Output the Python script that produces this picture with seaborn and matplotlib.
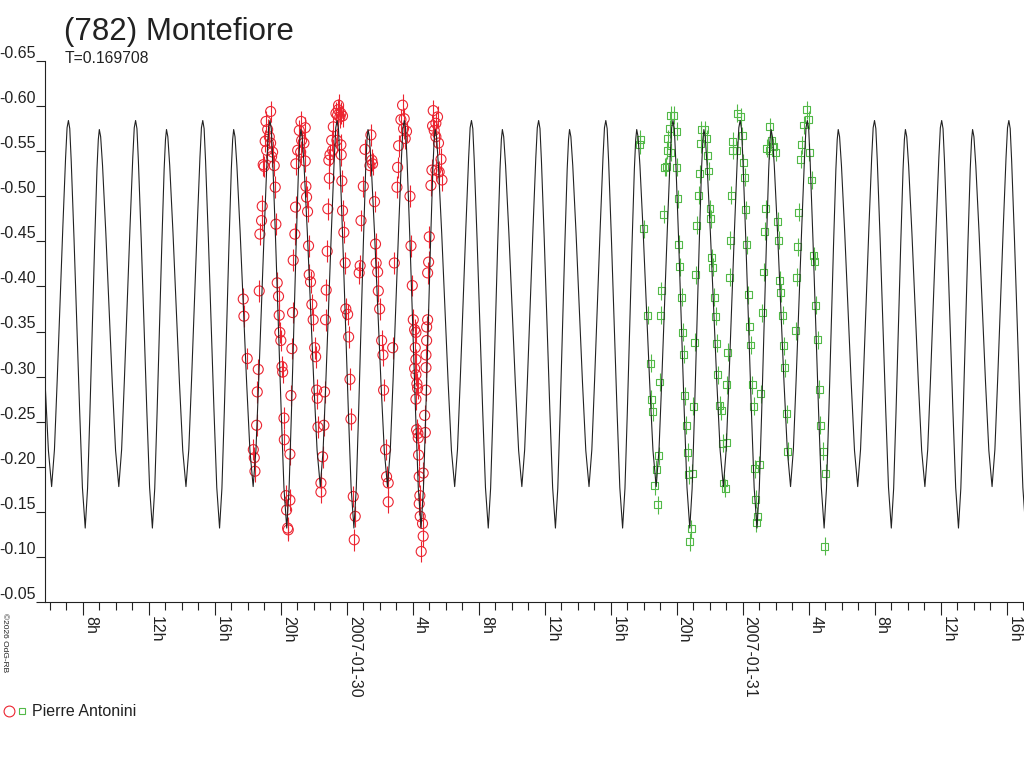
import numpy as np
import pandas as pd
import matplotlib
matplotlib.use('Agg')
import matplotlib.pyplot as plt
import seaborn as sns
from matplotlib.legend_handler import HandlerTuple
from matplotlib.lines import Line2D

# period of the fit (days), epoch of a main maximum in hours from 2007-01-30 00:00
period_days = 0.169708
epoch_h = -16.88

# one cycle of the fitted lightcurve (phase 0 = main maximum)
curve_phase = [0, 0.02, 0.0417, 0.0833, 0.125, 0.1667, 0.2083, 0.25, 0.285, 0.32, 0.355, 0.39,
               0.425, 0.445, 0.46, 0.48, 0.508, 0.557, 0.605, 0.653, 0.702, 0.75, 0.792, 0.833,
               0.875, 0.917, 0.958, 0.98]
curve_mag = [-0.584, -0.575, -0.539, -0.453, -0.358, -0.263, -0.177, -0.132, -0.176, -0.260, -0.353, -0.446,
             -0.530, -0.563, -0.574, -0.566, -0.534, -0.459, -0.376, -0.293, -0.218, -0.178, -0.219, -0.296,
             -0.381, -0.466, -0.543, -0.576]

# night 1 (red circles), hours from 2007-01-30 00:00
red_hours = [
    -6.28, -6.24, -6.04, -5.37, -5.43, -5.47, -5.67, -5.61, -5.57,
    -5.27, -5.17, -5.13, -5.31, -4.62, -4.90, -4.80, -4.95, -4.70, -4.62, -4.86, -4.50, -5.07, -4.40, -4.56, -5.01,
    -4.34, -4.30, -4.22, -4.14, -4.10, -4.06, -4.00, -3.93, -3.89, -3.81, -3.79, -3.69, -3.45, -3.65, -3.59, -3.55,
    -3.45, -3.39, -3.33, -3.29, -3.25, -3.15, -3.11,
    -2.78, -2.88, -2.52, -2.74, -2.60, -2.98, -2.80, -2.52, -3.09,
    -2.48, -2.44, -2.38, -2.32, -2.28, -2.20, -2.12, -2.04, -1.95, -1.89, -1.83, -1.79, -1.75, -1.57, -1.57,
    -1.47, -1.39, -1.35, -1.29, -1.25, -1.19, -1.15, -1.06,
    -0.66, -0.52, -0.82, -0.92, -1.02, -0.86, -1.09, -0.42,
    -0.50, -0.36, -0.56, -0.26, -0.60, -0.36, -0.34,
    -0.30, -0.26, -0.18, -0.10, -0.06, 0.05, 0.11, 0.19, 0.25, 0.39, 0.51, 0.45,
    0.75, 0.81, 0.86, 1.00, 1.10, 1.46, 1.52, 1.56, 1.40,
    1.68, 1.74, 1.78, 1.87, 1.91, 1.99, 2.11, 2.19, 2.23, 2.35, 2.41, 2.51, 2.51,
    2.78, 2.88, 3.04, 3.08, 3.14, 3.38, 3.48, 3.44, 3.62, 3.54, 3.28, 3.83, 3.89, 3.97,
    4.03, 4.11, 4.19, 4.15, 4.19, 4.11, 4.19, 4.25, 4.29, 4.19, 4.23, 4.31, 4.33, 4.35, 4.39, 4.43, 4.39, 4.45,
    4.59, 4.63, 4.51,
    4.63, 4.76, 4.72, 4.80, 4.80, 4.80, 4.84, 4.84, 4.90,
    5.24, 5.50, 5.40, 5.20, 5.30, 5.40, 5.56, 5.71, 5.16, 5.40, 5.60, 5.77, 5.10, 5.00, 4.96, 4.90,
]
red_mag = [
    -0.386, -0.367, -0.320, -0.308, -0.283, -0.246, -0.219, -0.210, -0.195,
    -0.458, -0.473, -0.489, -0.395, -0.594, -0.583, -0.574, -0.561, -0.566, -0.559, -0.551, -0.549, -0.535, -0.534,
    -0.544, -0.533,
    -0.510, -0.469, -0.404, -0.389, -0.368, -0.349, -0.340, -0.311, -0.305, -0.254, -0.230, -0.168, -0.163, -0.152,
    -0.132, -0.130,
    -0.214, -0.279, -0.331, -0.371, -0.429, -0.458, -0.488,
    -0.583, -0.573, -0.576, -0.562, -0.559, -0.551, -0.549, -0.539, -0.536,
    -0.511, -0.499, -0.483, -0.445, -0.413, -0.405, -0.380, -0.363, -0.332, -0.322, -0.285, -0.276, -0.244, -0.182,
    -0.172,
    -0.211, -0.246, -0.283, -0.363, -0.396, -0.439, -0.486, -0.520,
    -0.592, -0.596, -0.577, -0.562, -0.546, -0.551, -0.540, -0.588,
    -0.601, -0.592, -0.590, -0.589, -0.562, -0.557, -0.546,
    -0.517, -0.484, -0.460, -0.426, -0.375, -0.369, -0.344, -0.297, -0.253, -0.167, -0.145, -0.119,
    -0.415, -0.423, -0.473, -0.511, -0.552, -0.568, -0.540, -0.536, -0.534,
    -0.494, -0.447, -0.426, -0.416, -0.395, -0.375, -0.340, -0.324, -0.285, -0.219, -0.189, -0.182, -0.161,
    -0.332, -0.426, -0.510, -0.532, -0.556, -0.601, -0.586, -0.575, -0.572, -0.564, -0.585, -0.500, -0.445, -0.401,
    -0.363, -0.352, -0.349, -0.332, -0.319, -0.309, -0.302, -0.292, -0.287, -0.275, -0.241, -0.237, -0.232, -0.213,
    -0.189, -0.168, -0.159, -0.145,
    -0.137, -0.123, -0.106,
    -0.193, -0.238, -0.257, -0.285, -0.310, -0.324, -0.340, -0.355, -0.363,
    -0.595, -0.588, -0.581, -0.578, -0.573, -0.566, -0.559, -0.541, -0.529, -0.529, -0.527, -0.518, -0.512, -0.455,
    -0.427, -0.415,
]

# night 2 (green squares)
green_hours = [
    17.79, 17.75, 17.99, 18.26, 18.42, 18.46, 18.54, 18.90, 18.76, 18.66, 18.86,
    18.96, 19.02, 19.08, 19.21, 19.27, 19.37, 19.43, 19.47, 19.57, 19.63, 19.83, 19.99, 19.63, 19.99,
    20.08, 20.12, 20.18, 20.30, 20.38, 20.44, 20.50, 20.58, 20.68, 20.72, 20.88, 20.78,
    20.96, 21.02, 21.09, 21.17, 21.23, 21.33, 21.41, 21.45, 21.49, 21.69, 21.81, 21.85, 21.95,
    22.02, 22.08, 22.14, 22.20, 22.28, 22.38, 22.42, 22.50, 22.62, 22.70, 22.78, 23.01, 22.84, 22.94,
    23.05, 23.09, 23.21, 23.25, 23.31, 23.39, 23.41,
    23.67, 23.89, 23.63, 23.98, 24.04, 24.14, 24.20, 24.26, 24.34, 24.40, 24.48, 24.58, 24.66, 24.72, 25.01, 24.78,
    24.90, 24.84,
    25.09, 25.19, 25.27, 25.35, 25.41, 25.45, 25.65, 25.61, 25.75, 25.85, 26.02,
    26.12, 26.20, 26.26, 26.32, 26.42, 26.48, 26.56, 26.68, 26.74,
    27.23, 27.29, 27.35, 27.41, 27.51, 27.59, 27.71, 27.88, 28.00, 28.04, 28.18,
    28.32, 28.36, 28.44, 28.56, 28.64, 28.72, 28.89, 29.05, 28.99,
]
green_mag = [
    -0.563, -0.557, -0.464, -0.368, -0.315, -0.275, -0.261, -0.212, -0.197, -0.179, -0.158,
    -0.294, -0.368, -0.395, -0.480, -0.532, -0.533, -0.551, -0.564, -0.575, -0.590, -0.590, -0.572, -0.549, -0.532,
    -0.497, -0.447, -0.422, -0.388, -0.349, -0.325, -0.279, -0.246, -0.216, -0.191, -0.131, -0.117,
    -0.193, -0.267, -0.338, -0.413, -0.468, -0.501, -0.525, -0.558, -0.574, -0.574, -0.564, -0.545, -0.528,
    -0.486, -0.475, -0.432, -0.421, -0.388, -0.367, -0.337, -0.302, -0.268, -0.262, -0.226, -0.227, -0.182, -0.176,
    -0.291, -0.327, -0.410, -0.451, -0.501, -0.561, -0.551,
    -0.592, -0.588, -0.551, -0.567, -0.537, -0.521, -0.485, -0.446, -0.391, -0.356, -0.335, -0.291, -0.267, -0.198,
    -0.202, -0.164, -0.145, -0.138,
    -0.281, -0.371, -0.416, -0.461, -0.486, -0.553, -0.577, -0.551, -0.562, -0.555, -0.549,
    -0.472, -0.451, -0.407, -0.393, -0.368, -0.334, -0.310, -0.259, -0.217,
    -0.351, -0.410, -0.444, -0.482, -0.541, -0.557, -0.579, -0.596, -0.585, -0.549, -0.518,
    -0.434, -0.428, -0.379, -0.341, -0.286, -0.246, -0.217, -0.193, -0.112,
]
red_err = 0.012
green_err = 0.010

ytick_vals = [-0.65, -0.60, -0.55, -0.50, -0.45, -0.40, -0.35, -0.30, -0.25, -0.20, -0.15, -0.10, -0.05]
xtick_hours = [-16, -12, -8, -4, 0, 4, 8, 12, 16, 20, 24, 28, 32, 36, 40]
xtick_labels = ['8h', '12h', '16h', '20h', '2007-01-30', '4h', '8h', '12h', '16h', '20h',
                '2007-01-31', '4h', '8h', '12h', '16h']

red = '#ec2430'
green = '#52b948'
ink = '#222222'

sns.set_theme(style='ticks')
plt.rcParams['font.family'] = ['Liberation Sans', 'DejaVu Sans']

# tile the fitted cycle along the whole time range
period_h = period_days * 24
fit_x, fit_y = [], []
for k in range(-2, 17):
    for ph, m in zip(curve_phase, curve_mag):
        fit_x.append(epoch_h + (k + ph) * period_h)
        fit_y.append(m)
df_fit = pd.DataFrame({'hour': fit_x, 'mag': fit_y})
df_red = pd.DataFrame({'hour': red_hours, 'mag': red_mag})
df_green = pd.DataFrame({'hour': green_hours, 'mag': green_mag})

fig = plt.figure(figsize=(10.24, 7.68), dpi=100)
ax = fig.add_axes([45 / 1024, 166 / 768, 979 / 1024, 541 / 768])

ax.errorbar(df_red['hour'], df_red['mag'], yerr=red_err, fmt='none', ecolor=red, elinewidth=0.8, zorder=2)
ax.errorbar(df_green['hour'], df_green['mag'], yerr=green_err, fmt='none', ecolor=green, elinewidth=0.8, zorder=2)
sns.scatterplot(data=df_red, x='hour', y='mag', marker='o', s=52, facecolors='none',
                edgecolor=red, linewidth=0.8, ax=ax, zorder=2)
sns.scatterplot(data=df_green, x='hour', y='mag', marker='s', s=25, facecolors='none',
                edgecolor=green, linewidth=0.8, ax=ax, zorder=2)
sns.lineplot(data=df_fit, x='hour', y='mag', sort=False, estimator=None, color=ink, linewidth=0.8,
             ax=ax, zorder=3)

ax.set_xlim(-18.3, 41.06)
ax.set_ylim(-0.05, -0.65)
ax.set_xlabel('')
ax.set_ylabel('')
sns.despine(ax=ax)
for s in ['left', 'bottom']:
    ax.spines[s].set_linewidth(0.8)
    ax.spines[s].set_color(ink)

ax.set_yticks(ytick_vals)
ax.set_yticklabels([f'{v:.2f}' for v in ytick_vals])
for lbl in ax.get_yticklabels():
    lbl.set_verticalalignment('bottom')
ax.tick_params(axis='y', length=6.5, width=0.8, pad=0.3, labelsize=11.5, color=ink, labelcolor=ink)

ax.set_xticks(xtick_hours)
ax.set_xticklabels(xtick_labels, rotation=270, ha='left', va='top')
ax.set_xticks(np.arange(-18, 42), minor=True)
ax.tick_params(axis='x', which='major', length=9.5, width=0.8, pad=0.5, labelsize=11.5, color=ink, labelcolor=ink)
ax.tick_params(axis='x', which='minor', length=6, width=0.8, color=ink)

fig.text(64 / 1024, 1 - 40 / 768, '(782) Montefiore', fontsize=22.5, color=ink, va='baseline', ha='left')
fig.text(65 / 1024, 1 - 63 / 768, 'T=0.169708', fontsize=11.3, color=ink, va='baseline', ha='left')
fig.text(1 / 1024, 1 - 613 / 768, '©2026 OdG-RB', fontsize=6, color=ink, rotation=270, va='top', ha='left')

h_red = Line2D([], [], marker='o', linestyle='none', markersize=7.8, markerfacecolor='none',
               markeredgecolor=red, markeredgewidth=0.8)
h_green = Line2D([], [], marker='s', linestyle='none', markersize=5, markerfacecolor='none',
                 markeredgecolor=green, markeredgewidth=0.8)
fig.legend([(h_red, h_green)], ['Pierre Antonini'], handler_map={tuple: HandlerTuple(ndivide=None, pad=0.2)},
           loc='center left', bbox_to_anchor=(4 / 1024, 1 - 712 / 768), frameon=False, borderaxespad=0,
           borderpad=0, handlelength=1.4, handletextpad=0.35, fontsize=11.5, labelcolor=ink)

fig.savefig('out.png', dpi=100)
